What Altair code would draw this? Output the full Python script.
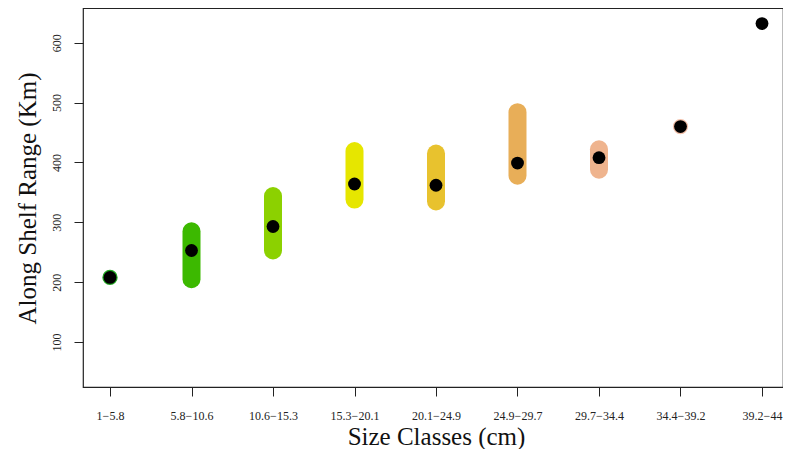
import altair as alt
import pandas as pd

categories = ["1−5.8", "5.8−10.6", "10.6−15.3", "15.3−20.1", "20.1−24.9",
              "24.9−29.7", "29.7−34.4", "34.4−39.2", "39.2−44"]
means = [208, 253, 293, 364, 362, 399, 408, 460, 632]
lows = [None, 205, 253, 338, 335, 378, 388, None, None]
highs = [None, 285, 344, 419, 415, 484, 422, None, None]
colors = ["#22A822", "#3CB900", "#8CD100", "#E6E600", "#E8C22E",
          "#E8AE58", "#EFB48E", "#F2C0AA", "#FFFFFF"]
y_ticks = [100, 200, 300, 400, 500, 600]

df = pd.DataFrame({"cat": categories, "mean": means, "lo": lows, "hi": highs})

FONT = "Liberation Serif"

x_enc = alt.X("cat:N", sort=categories,
              scale=alt.Scale(type="point", padding=0.2945, align=0.5625),
              axis=alt.Axis(title="Size Classes (cm)", labelAngle=0, domain=False,
                            tickSize=9, tickColor="#222", labelBaseline="middle",
                            labelPadding=19, labelFontSize=12, labelFont=FONT,
                            labelColor="#222", titleFont=FONT, titleFontSize=25,
                            titleFontWeight="normal", titleY=49, titleX=353,
                            titleBaseline="middle", titleColor="#111"))
y_scale = alt.Scale(domain=[25, 658], nice=False, zero=False)
y_axis = alt.Axis(title="Along Shelf Range (Km)", values=y_ticks, domain=False,
                  grid=False, tickSize=9, tickColor="#222", labelAngle=270,
                  labelAlign="center", labelBaseline="middle", labelPadding=18,
                  labelFontSize=12, labelFont=FONT, labelColor="#222",
                  titleFont=FONT, titleFontSize=25, titleFontWeight="normal",
                  titleAngle=270, titleX=-56, titleY=190, titleAlign="center",
                  titleBaseline="middle", titleColor="#111")
color_scale = alt.Scale(domain=categories, range=colors)

base = alt.Chart(df)

bars = base.mark_rule(strokeWidth=18, strokeCap="round").encode(
    x=x_enc,
    y=alt.Y("lo:Q", scale=y_scale, axis=y_axis),
    y2="hi:Q",
    color=alt.Color("cat:N", scale=color_scale, legend=None),
)

rings = base.mark_circle(size=235, opacity=1).encode(
    x=x_enc,
    y=alt.Y("mean:Q", scale=y_scale, axis=y_axis),
    color=alt.Color("cat:N", scale=color_scale, legend=None),
)

dots = base.mark_circle(size=165, opacity=1, color="black").encode(
    x=x_enc,
    y=alt.Y("mean:Q", scale=y_scale, axis=y_axis),
)

chart = alt.layer(bars, rings, dots).properties(
    width=700, height=379,
    autosize=alt.AutoSizeParams(type="none"),
    padding={"left": 75, "top": 0, "right": 0, "bottom": 62},
).configure_view(stroke="#222", strokeWidth=1.2).configure_axis(grid=False)

chart.save("out.html", embed_options={"renderer": "svg", "actions": False})
